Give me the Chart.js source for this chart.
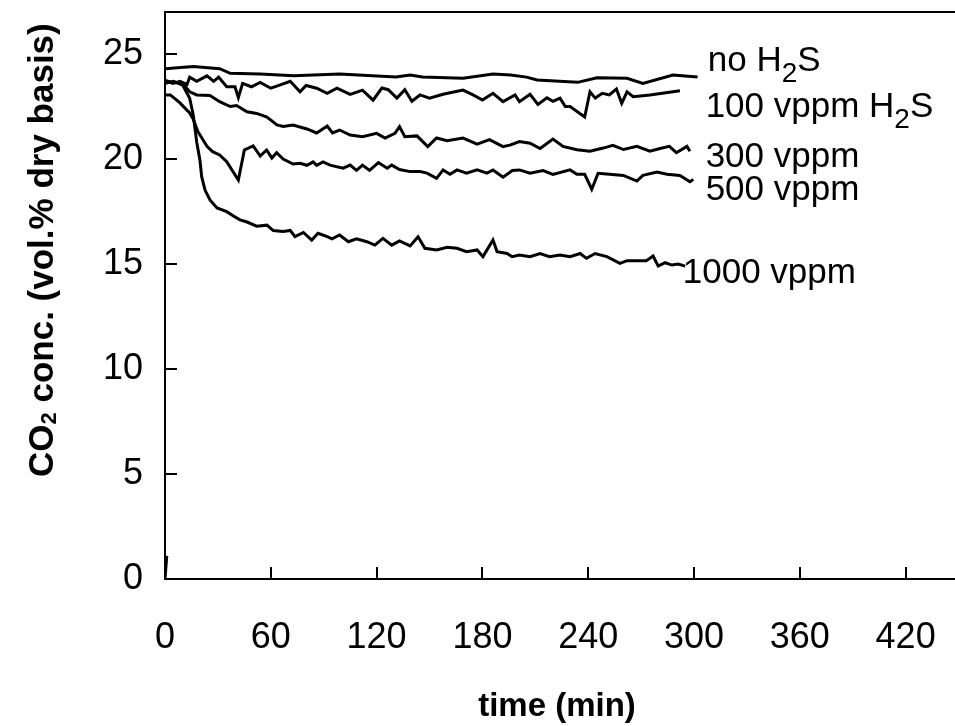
<!DOCTYPE html>
<html>
<head>
<meta charset="utf-8">
<script src="https://cdn.jsdelivr.net/npm/chart.js@4.4.1/dist/chart.umd.min.js"></script>
<style>
  body { margin: 0; background: #fff; }
</style>
</head>
<body>
<canvas id="grafico" width="955" height="726"></canvas>
<script>
// valores (tiempo en min, CO2 en vol.%)
var tNoH2S = [0, 16, 31, 37, 54, 73, 99, 131, 139, 146, 169, 186, 196, 205, 211, 234, 245, 262, 271, 288, 302];
var cNoH2S = [24.3, 24.4, 24.3, 24.08, 24.05, 23.97, 24.05, 23.9, 24.0, 23.9, 23.85, 24.05, 24.0, 23.9, 23.76, 23.65, 23.87, 23.84, 23.6, 24.0, 23.9];

var t100 = [0, 4.5, 8.5, 12.5, 14, 18, 23.8, 27.6, 30.4, 35, 39.7, 41.6, 44, 49, 54, 60, 65, 71, 76.6, 80,
            86, 92, 97.5, 105, 112, 118, 123, 126.6, 131.5, 136, 140, 144.6, 150, 157.7, 163, 169, 174.7, 180, 186, 191.7,
            198.5, 201, 207, 211.5, 216.6, 220, 224, 227, 229.7, 238, 241, 244, 248, 252, 256, 259, 262, 265.5, 275, 292];
var c100 = [23.76, 23.6, 23.7, 23.55, 23.9, 23.7, 23.96, 23.7, 23.9, 23.44, 23.44, 22.92, 23.6, 23.44, 23.65, 23.37, 23.52, 23.7, 23.2, 23.5,
            23.37, 23.13, 23.37, 23.08, 23.28, 22.8, 23.38, 23.3, 22.9, 23.3, 22.75, 23.05, 22.9, 23.08, 23.18, 23.28, 23.05, 22.81, 23.13, 22.73,
            23.05, 22.73, 23.08, 22.6, 22.92, 22.75, 22.9, 22.5, 22.5, 22.0, 23.2, 22.9, 23.13, 23.05, 23.33, 22.65, 23.2, 22.97, 23.05, 23.25];

var t300 = [0, 10, 14, 18, 25.5, 31, 37, 40.6, 46.5, 52, 57.8, 63.5, 67, 72.6, 80.5, 86, 92, 95, 99, 105,
            112, 120, 124.8, 130.4, 133, 136, 142.9, 149, 154, 160, 169, 177, 184, 191.7, 196, 201, 207, 212.7, 220, 225.7,
            233.6, 241, 248.5, 254, 260, 267.6, 275, 280.7, 286, 290, 296, 297.7];
var c300 = [23.7, 23.6, 23.2, 23.05, 23.02, 22.73, 22.5, 22.55, 22.25, 22.17, 22.0, 21.62, 21.55, 21.62, 21.43, 21.24, 21.57, 21.24, 21.38, 21.14,
            21.06, 21.22, 21.0, 21.22, 21.54, 21.06, 21.1, 20.59, 21.0, 20.87, 21.0, 20.71, 20.92, 20.59, 20.67, 20.83, 20.75, 20.5, 20.95, 20.6,
            20.44, 20.37, 20.52, 20.65, 20.45, 20.6, 20.37, 20.5, 20.6, 20.3, 20.6, 20.37];

var t500 = [0, 3, 8.5, 14, 16, 18.7, 23.8, 27, 31, 35, 41.6, 45, 50, 54, 57.6, 60.6, 63.3, 67, 72.6, 76.6,
            80.5, 84, 86, 89.6, 93.6, 101, 105, 108.6, 112, 116, 121, 126, 128.6, 133, 139, 144.6, 148.6, 154, 157.7, 161.6,
            165.6, 171, 177, 182.6, 186, 191.7, 197, 201, 207, 214.4, 220, 229.7, 233.6, 238, 242, 245.6, 252, 260, 267.6, 271,
            279, 284.7, 292, 297.7, 299.6];
var c500 = [23.05, 23.05, 22.67, 22.19, 21.9, 21.3, 20.6, 20.35, 20.19, 19.87, 19.0, 20.43, 20.62, 20.14, 20.43, 20.05, 20.3, 20.0, 19.76, 19.8,
            19.7, 19.86, 19.7, 19.86, 19.71, 19.56, 19.71, 19.46, 19.71, 19.46, 19.83, 19.56, 19.71, 19.5, 19.4, 19.4, 19.33, 19.08, 19.48, 19.27,
            19.48, 19.33, 19.48, 19.33, 19.48, 19.13, 19.45, 19.48, 19.32, 19.45, 19.27, 19.48, 19.27, 19.27, 18.56, 19.32, 19.27, 19.22, 18.95, 19.22,
            19.38, 19.27, 19.22, 18.92, 19.03];

// el primer tramo (0 -> 1.1) es el arranque que se ve junto al eje; null corta la linea
var t1000 = [0, 1, 1, 0, 5, 10, 14, 16, 18, 19.8, 20.8, 22.7, 25.5, 29.5, 35, 38.6, 42.5, 46.5, 52, 57.8, 61.4,
             67, 71, 73.7, 78.5, 83.2, 86.8, 92, 94.7, 99, 104, 108.6, 114.5, 119, 123.6, 128.6, 133, 139, 143.5, 147.4, 154,
             160, 165.6, 171, 177, 180.3, 186, 188.3, 194, 196.8, 201, 207, 212.7, 218, 224, 229.7, 235.4, 239, 243.9, 250.6, 258,
             262, 273, 276.8, 279.7, 283.6, 287.5, 291, 295];
var c1000 = [0, 1.1, null, 23.6, 23.7, 23.52, 22.89, 22.1, 20.8, 19.95, 19.16, 18.52, 18.05, 17.67, 17.49, 17.3, 17.1, 17.0, 16.8, 16.85, 16.59,
             16.55, 16.6, 16.3, 16.5, 16.14, 16.46, 16.3, 16.2, 16.38, 16.06, 16.2, 16.06, 15.9, 16.22, 15.9, 16.1, 15.86, 16.3, 15.75, 15.67,
             15.8, 15.75, 15.59, 15.67, 15.35, 16.14, 15.59, 15.5, 15.35, 15.43, 15.35, 15.5, 15.35, 15.43, 15.35, 15.5, 15.27, 15.5, 15.35, 15.03,
             15.16, 15.16, 15.38, 14.9, 15.06, 14.95, 15.0, 14.9];

var xTicks = [0, 60, 120, 180, 240, 300, 360, 420];
var yTicks = [0, 5, 10, 15, 20, 25];

// etiquetas de cada curva: [texto, subindice, resto, x (min), y (vol.%)]
var etiquetas = [
  ['no H', '2', 'S', 307.8, 24.19],
  ['100 vppm H', '2', 'S', 306.6, 22.0],
  ['300 vppm', '', '', 306.6, 19.62],
  ['500 vppm', '', '', 306.6, 18.05],
  ['1000 vppm', '', '', 293.6, 14.1]
];

var FUENTE = '"Liberation Sans", Arial, Helvetica, sans-serif';

function puntos(t, c) {
  return t.map(function (v, i) { return { x: v, y: c[i] }; });
}

function serie(t, c) {
  return {
    data: puntos(t, c),
    showLine: true,
    spanGaps: false,
    borderColor: '#000',
    borderWidth: 3,
    pointRadius: 0,
    fill: false,
    tension: 0
  };
}

// texto con subindice
function textoSub(ctx, x, y, partes, size, subSize, bajada) {
  ctx.font = size + 'px ' + FUENTE;
  ctx.fillText(partes[0], x, y);
  x += ctx.measureText(partes[0]).width;
  if (partes[1]) {
    ctx.font = subSize + 'px ' + FUENTE;
    ctx.fillText(partes[1], x, y + bajada);
    x += ctx.measureText(partes[1]).width;
    ctx.font = size + 'px ' + FUENTE;
    ctx.fillText(partes[2], x, y);
  }
}

var extras = {
  id: 'extras',
  afterDraw: function (chart) {
    var ctx = chart.ctx, a = chart.chartArea;
    var sx = chart.scales.x, sy = chart.scales.y;
    ctx.save();
    ctx.strokeStyle = '#000';
    ctx.fillStyle = '#000';
    ctx.lineWidth = 2;
    // borde superior
    ctx.beginPath();
    ctx.moveTo(a.left - 1, a.top);
    ctx.lineTo(a.right, a.top);
    ctx.stroke();
    // marcas hacia dentro
    ctx.beginPath();
    xTicks.forEach(function (v) {
      var px = Math.round(sx.getPixelForValue(v));
      ctx.moveTo(px, a.bottom);
      ctx.lineTo(px, a.bottom - 12);
    });
    yTicks.forEach(function (v) {
      var py = Math.round(sy.getPixelForValue(v));
      ctx.moveTo(a.left, py);
      ctx.lineTo(a.left + 12, py);
    });
    ctx.stroke();

    // etiquetas de las curvas
    ctx.textAlign = 'left';
    ctx.textBaseline = 'alphabetic';
    etiquetas.forEach(function (e) {
      textoSub(ctx, sx.getPixelForValue(e[3]), sy.getPixelForValue(e[4]), e, 35, 28, 11);
    });

    // titulo eje x
    ctx.font = 'bold 33px ' + FUENTE;
    ctx.textAlign = 'center';
    ctx.fillText('time (min)', 557, 716);

    // titulo eje y (girado)
    ctx.translate(53, 477);
    ctx.rotate(-Math.PI / 2);
    ctx.textAlign = 'left';
    var x = 0;
    ctx.font = 'bold 35px ' + FUENTE;
    ctx.fillText('CO', x, 0);
    x += ctx.measureText('CO').width;
    ctx.font = 'bold 22px ' + FUENTE;
    ctx.fillText('2', x, 3);
    x += ctx.measureText('2').width;
    ctx.font = 'bold 35px ' + FUENTE;
    ctx.fillText(' conc. (vol.% dry basis)', x, 0);
    ctx.restore();
  }
};

new Chart(document.getElementById('grafico'), {
  type: 'scatter',
  data: {
    datasets: [
      serie(tNoH2S, cNoH2S),
      serie(t100, c100),
      serie(t300, c300),
      serie(t500, c500),
      serie(t1000, c1000)
    ]
  },
  options: {
    responsive: false,
    animation: false,
    layout: { padding: { top: 12, left: 0, right: 0, bottom: 0 } },
    plugins: { legend: { display: false }, tooltip: { enabled: false } },
    scales: {
      x: {
        type: 'linear',
        min: 0,
        max: 448,
        afterFit: function (s) { s.height = 147; s.paddingLeft = 0; s.paddingRight = 0; },
        afterBuildTicks: function (s) { s.ticks = xTicks.map(function (v) { return { value: v }; }); },
        grid: { display: false, drawTicks: false },
        border: { display: true, color: '#000', width: 2 },
        ticks: { color: '#000', font: { family: FUENTE, size: 36 }, padding: 37, maxRotation: 0, autoSkip: false }
      },
      y: {
        type: 'linear',
        min: 0,
        max: 27,
        afterFit: function (s) { s.width = 165; s.paddingTop = 0; s.paddingBottom = 0; },
        afterBuildTicks: function (s) { s.ticks = yTicks.map(function (v) { return { value: v }; }); },
        grid: { display: false, drawTicks: false },
        border: { display: true, color: '#000', width: 2 },
        ticks: { color: '#000', font: { family: FUENTE, size: 36 }, padding: 22, autoSkip: false }
      }
    }
  },
  plugins: [extras]
});
</script>
</body>
</html>
